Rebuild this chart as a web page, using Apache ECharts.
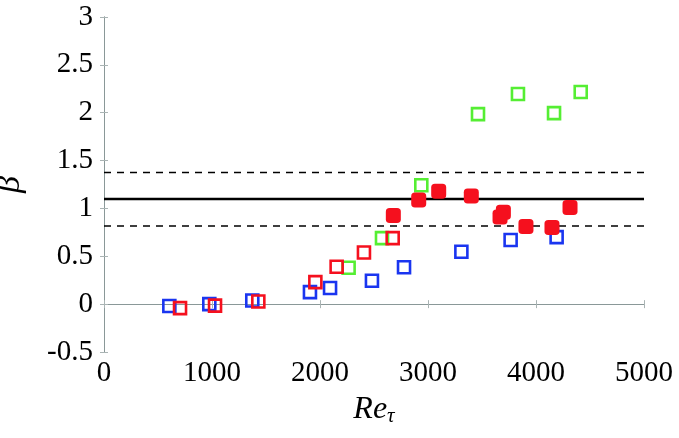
<!DOCTYPE html>
<html><head><meta charset="utf-8">
<script src="https://cdn.jsdelivr.net/npm/echarts@6/dist/echarts.min.js"></script>
<style>html,body{margin:0;padding:0;background:#fff}#c{width:679px;height:438px}</style>
</head><body><div id="c"></div>
<script>
// Data (Re_tau, beta)
const blueOpen = [[605,-0.02],[975,0.0],[1373,0.038],[1907,0.126],[2093,0.168],[2481,0.245],[2778,0.385],[3309,0.547],[3765,0.67],[4191,0.70]];
const redOpen = [[704,-0.042],[1028,-0.015],[1429,0.027],[1957,0.23],[2154,0.39],[2407,0.54],[2673,0.69]];
const greenOpen = [[2265,0.38],[2574,0.69],[2938,1.242],[3463,1.985],[3833,2.196],[4167,1.996],[4414,2.217]];
const redFilled = [[2679,0.926],[2914,1.087],[3099,1.18],[3401,1.13],[3698,0.96],[3667,0.91],[3907,0.81],[4148,0.80],[4315,1.01]];
const refMean = 1.098;
const refBand = [0.817, 1.375];
const xRange = [0, 5000];
const yRange = [-0.5, 3];

const font = 'Liberation Serif';
const frame = '#8a9898';
const chart = echarts.init(document.getElementById('c'), null, {renderer:'canvas'});
const hLine = (v) => [[xRange[0], v],[xRange[1], v]];
const openSq = (name, data, color) => ({
  name, type:'scatter', data, symbol:'rect', symbolSize:12,
  itemStyle:{color:'rgba(255,255,255,0)', borderColor:color, borderWidth:2.6, opacity:1}, z:5
});
chart.setOption({
  animation:false,
  grid:{left:104, right:35, top:17, bottom:86, containLabel:false, outerBoundsMode:'none'},
  xAxis:[{
    type:'value', min:xRange[0], max:xRange[1], interval:1000,
    axisLine:{show:true, lineStyle:{color:frame, width:1}},
    axisTick:{show:true, inside:true, length:4, lineStyle:{color:'#aab4b4'}},
    splitLine:{show:false},
    axisLabel:{fontFamily:font, fontSize:29, color:'#000', margin:7, formatter:(v)=>String(v)},
    name:'{i|Re}{s|τ}', nameLocation:'middle', nameGap:40,
    nameTextStyle:{rich:{i:{fontFamily:font, fontStyle:'italic', fontSize:32, color:'#000'}, s:{fontFamily:font, fontStyle:'italic', fontSize:21, color:'#000', verticalAlign:'bottom', padding:[14,0,0,0]}}}
  },{
    type:'value', position:'top', min:xRange[0], max:xRange[1], interval:1000,
    axisLine:{show:true, lineStyle:{color:frame, width:1}},
    axisTick:{show:true, inside:true, length:4, lineStyle:{color:'#aab4b4'}},
    axisLabel:{show:false}, splitLine:{show:false}
  }],
  yAxis:[{
    type:'value', min:yRange[0], max:yRange[1], interval:0.5,
    axisLine:{show:true, lineStyle:{color:frame, width:1}},
    axisTick:{show:true, inside:true, length:4, lineStyle:{color:'#aab4b4'}},
    splitLine:{show:false},
    axisLabel:{fontFamily:font, fontSize:29, color:'#000', margin:11, formatter:(v)=>String(v)},
    name:'β', nameLocation:'middle', nameGap:77, nameRotate:90,
    nameTextStyle:{fontFamily:font, fontStyle:'italic', fontSize:34, color:'#000'}
  },{
    type:'value', position:'right', min:yRange[0], max:yRange[1], interval:0.5,
    axisLine:{show:true, lineStyle:{color:frame, width:1}},
    axisTick:{show:true, inside:true, length:4, lineStyle:{color:'#aab4b4'}},
    axisLabel:{show:false}, splitLine:{show:false}
  }],
  series:[
    {type:'line', data:hLine(refMean), symbol:'none', lineStyle:{color:'#000', width:2.4}, z:2, silent:true},
    {type:'line', data:hLine(refBand[0]), symbol:'none', lineStyle:{color:'#000', width:1.4, type:[7,6]}, z:2, silent:true},
    {type:'line', data:hLine(refBand[1]), symbol:'none', lineStyle:{color:'#000', width:1.4, type:[7,6]}, z:2, silent:true},
    openSq('blue', blueOpen, '#1a35f0'),
    openSq('green', greenOpen, '#55ee33'),
    openSq('red', redOpen, '#f5101e'),
    {name:'redFilled', type:'scatter', data:redFilled, symbol:'roundRect', symbolSize:15,
     itemStyle:{color:'#f5101e', opacity:1}, z:6}
  ]
});
</script></body></html>
